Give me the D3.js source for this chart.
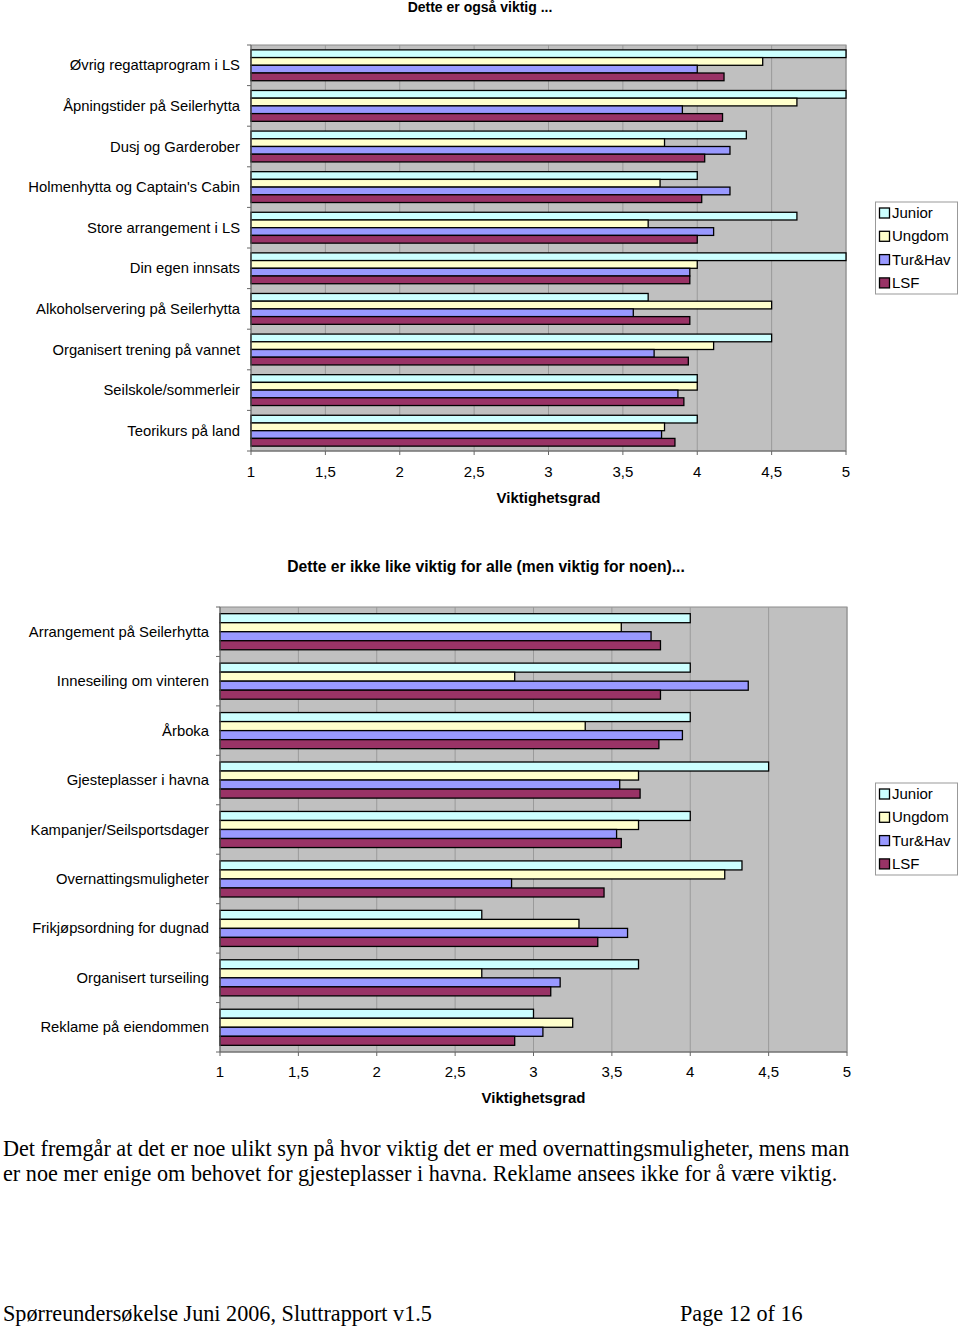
<!DOCTYPE html>
<html><head><meta charset="utf-8">
<script src="https://cdn.jsdelivr.net/npm/d3@7"></script>
<style>body{margin:0;background:#fff}svg{display:block}</style>
</head><body>
<script>
const series = ["Junior","Ungdom","Tur&Hav","LSF"];
const colors = ["#ccffff","#ffffcc","#9999ff","#993366"];
const ticks = [1,1.5,2,2.5,3,3.5,4,4.5,5];
const tickLabels = ["1","1,5","2","2,5","3","3,5","4","4,5","5"];

const cats1 = ["Øvrig regattaprogram i LS","Åpningstider på Seilerhytta","Dusj og Garderober","Holmenhytta og Captain's Cabin","Store arrangement i LS","Din egen innsats","Alkoholservering på Seilerhytta","Organisert trening på vannet","Seilskole/sommerleir","Teorikurs på land"];
const junior1 = [5.0,5.0,4.33,4.0,4.67,5.0,3.67,4.5,4.0,4.0];
const ungdom1 = [4.44,4.67,3.78,3.75,3.67,4.0,4.5,4.11,4.0,3.78];
const turhav1 = [4.0,3.9,4.22,4.22,4.11,3.95,3.57,3.71,3.87,3.76];
const lsf1    = [4.18,4.17,4.05,4.03,4.0,3.95,3.95,3.94,3.91,3.85];

const cats2 = ["Arrangement på Seilerhytta","Inneseiling om vinteren","Årboka","Gjesteplasser i havna","Kampanjer/Seilsportsdager","Overnattingsmuligheter","Frikjøpsordning for dugnad","Organisert turseiling","Reklame på eiendommen"];
const junior2 = [4.0,4.0,4.0,4.5,4.0,4.33,2.67,3.67,3.0];
const ungdom2 = [3.56,2.88,3.33,3.67,3.67,4.22,3.29,2.67,3.25];
const turhav2 = [3.75,4.37,3.95,3.55,3.53,2.86,3.6,3.17,3.06];
const lsf2    = [3.81,3.81,3.8,3.68,3.56,3.45,3.41,3.11,2.88];

const W=960,H=1326;
const svg=d3.select("body").append("svg").attr("width",W).attr("height",H);
const font="Liberation Sans, Arial, sans-serif";

function chart(o){
  const {cats,vals,x0,x1,y0,y1,pad,labelX,tickY,titleY,legY}=o;
  const g=svg.append("g");
  const x=d3.scaleLinear().domain([1,5]).range([x0,x1]);
  const y=d3.scaleBand().domain(cats).range([y0,y1]).paddingInner(pad).paddingOuter(pad/2);
  const ys=d3.scaleBand().domain(series).range([0,y.bandwidth()]);
  g.append("rect").attr("x",x0).attr("y",y0).attr("width",x1-x0).attr("height",y1-y0)
    .attr("fill","#c0c0c0").attr("stroke","#8c8c8c").attr("stroke-width",1);
  g.selectAll("line.grid").data(ticks.slice(1)).enter().append("line")
    .attr("x1",d=>x(d)).attr("x2",d=>x(d)).attr("y1",y0).attr("y2",y1)
    .attr("stroke","#9a9a9a").attr("stroke-width",1);
  cats.forEach((c,i)=>{
    series.forEach((s,j)=>{
      g.append("rect").attr("x",x(1)).attr("y",y(c)+ys(s))
        .attr("width",x(vals[j][i])-x(1)).attr("height",ys.bandwidth())
        .attr("fill",colors[j]).attr("stroke","#000").attr("stroke-width",1.3);
    });
    g.append("text").attr("x",labelX).attr("y",y(c)+y.bandwidth()/2+5)
      .attr("text-anchor","end").attr("font-family",font).attr("font-size",14.8).text(c);
  });
  g.append("line").attr("x1",x0).attr("x2",x0).attr("y1",y0).attr("y2",y1).attr("stroke","#666");
  g.append("line").attr("x1",x0).attr("x2",x1).attr("y1",y1).attr("y2",y1).attr("stroke","#666");
  d3.range(cats.length+1).forEach(i=>{
    const yy=y0+i*(y1-y0)/cats.length;
    g.append("line").attr("x1",x0-4).attr("x2",x0).attr("y1",yy).attr("y2",yy).attr("stroke","#666");
  });
  ticks.forEach((t,i)=>{
    g.append("line").attr("x1",x(t)).attr("x2",x(t)).attr("y1",y1).attr("y2",y1+4).attr("stroke","#666");
    g.append("text").attr("x",x(t)).attr("y",tickY).attr("text-anchor","middle")
      .attr("font-family",font).attr("font-size",15).text(tickLabels[i]);
  });
  g.append("text").attr("x",(x0+x1)/2).attr("y",titleY).attr("text-anchor","middle")
    .attr("font-family",font).attr("font-size",15).attr("font-weight","bold").text("Viktighetsgrad");
  const lg=g.append("g");
  lg.append("rect").attr("x",875.5).attr("y",legY).attr("width",82).attr("height",92)
    .attr("fill","#fff").attr("stroke","#999");
  series.forEach((s,j)=>{
    const cy=legY+11+j*23.3;
    lg.append("rect").attr("x",879.5).attr("y",cy-5).attr("width",10).attr("height",10)
      .attr("fill",colors[j]).attr("stroke","#000").attr("stroke-width",1.3);
    lg.append("text").attr("x",892).attr("y",cy+5).attr("font-family",font).attr("font-size",15).text(s);
  });
}

chart({cats:cats1,vals:[junior1,ungdom1,turhav1,lsf1],x0:251,x1:846,y0:45,y1:451,pad:0.24,labelX:240,tickY:477,titleY:503,legY:202});
chart({cats:cats2,vals:[junior2,ungdom2,turhav2,lsf2],x0:220,x1:847,y0:607,y1:1052,pad:0.27,labelX:209,tickY:1077,titleY:1103,legY:783});

svg.append("text").attr("x",480).attr("y",12).attr("text-anchor","middle").attr("font-family",font)
  .attr("font-size",14).attr("font-weight","bold").text("Dette er også viktig ...");
svg.append("text").attr("x",486).attr("y",572).attr("text-anchor","middle").attr("font-family",font)
  .attr("font-size",15.7).attr("font-weight","bold").text("Dette er ikke like viktig for alle (men viktig for noen)...");

const serif="Liberation Serif, Times New Roman, serif";
svg.append("text").attr("x",3).attr("y",1156).attr("font-family",serif).attr("font-size",22.2)
  .text("Det fremgår at det er noe ulikt syn på hvor viktig det er med overnattingsmuligheter, mens man");
svg.append("text").attr("x",3).attr("y",1181).attr("font-family",serif).attr("font-size",22.2)
  .text("er noe mer enige om behovet for gjesteplasser i havna. Reklame ansees ikke for å være viktig.");
svg.append("text").attr("x",3).attr("y",1321).attr("font-family",serif).attr("font-size",22.2)
  .text("Spørreundersøkelse Juni 2006, Sluttrapport v1.5");
svg.append("text").attr("x",680).attr("y",1321).attr("font-family",serif).attr("font-size",22.2)
  .text("Page 12 of 16");
</script>
</body></html>
